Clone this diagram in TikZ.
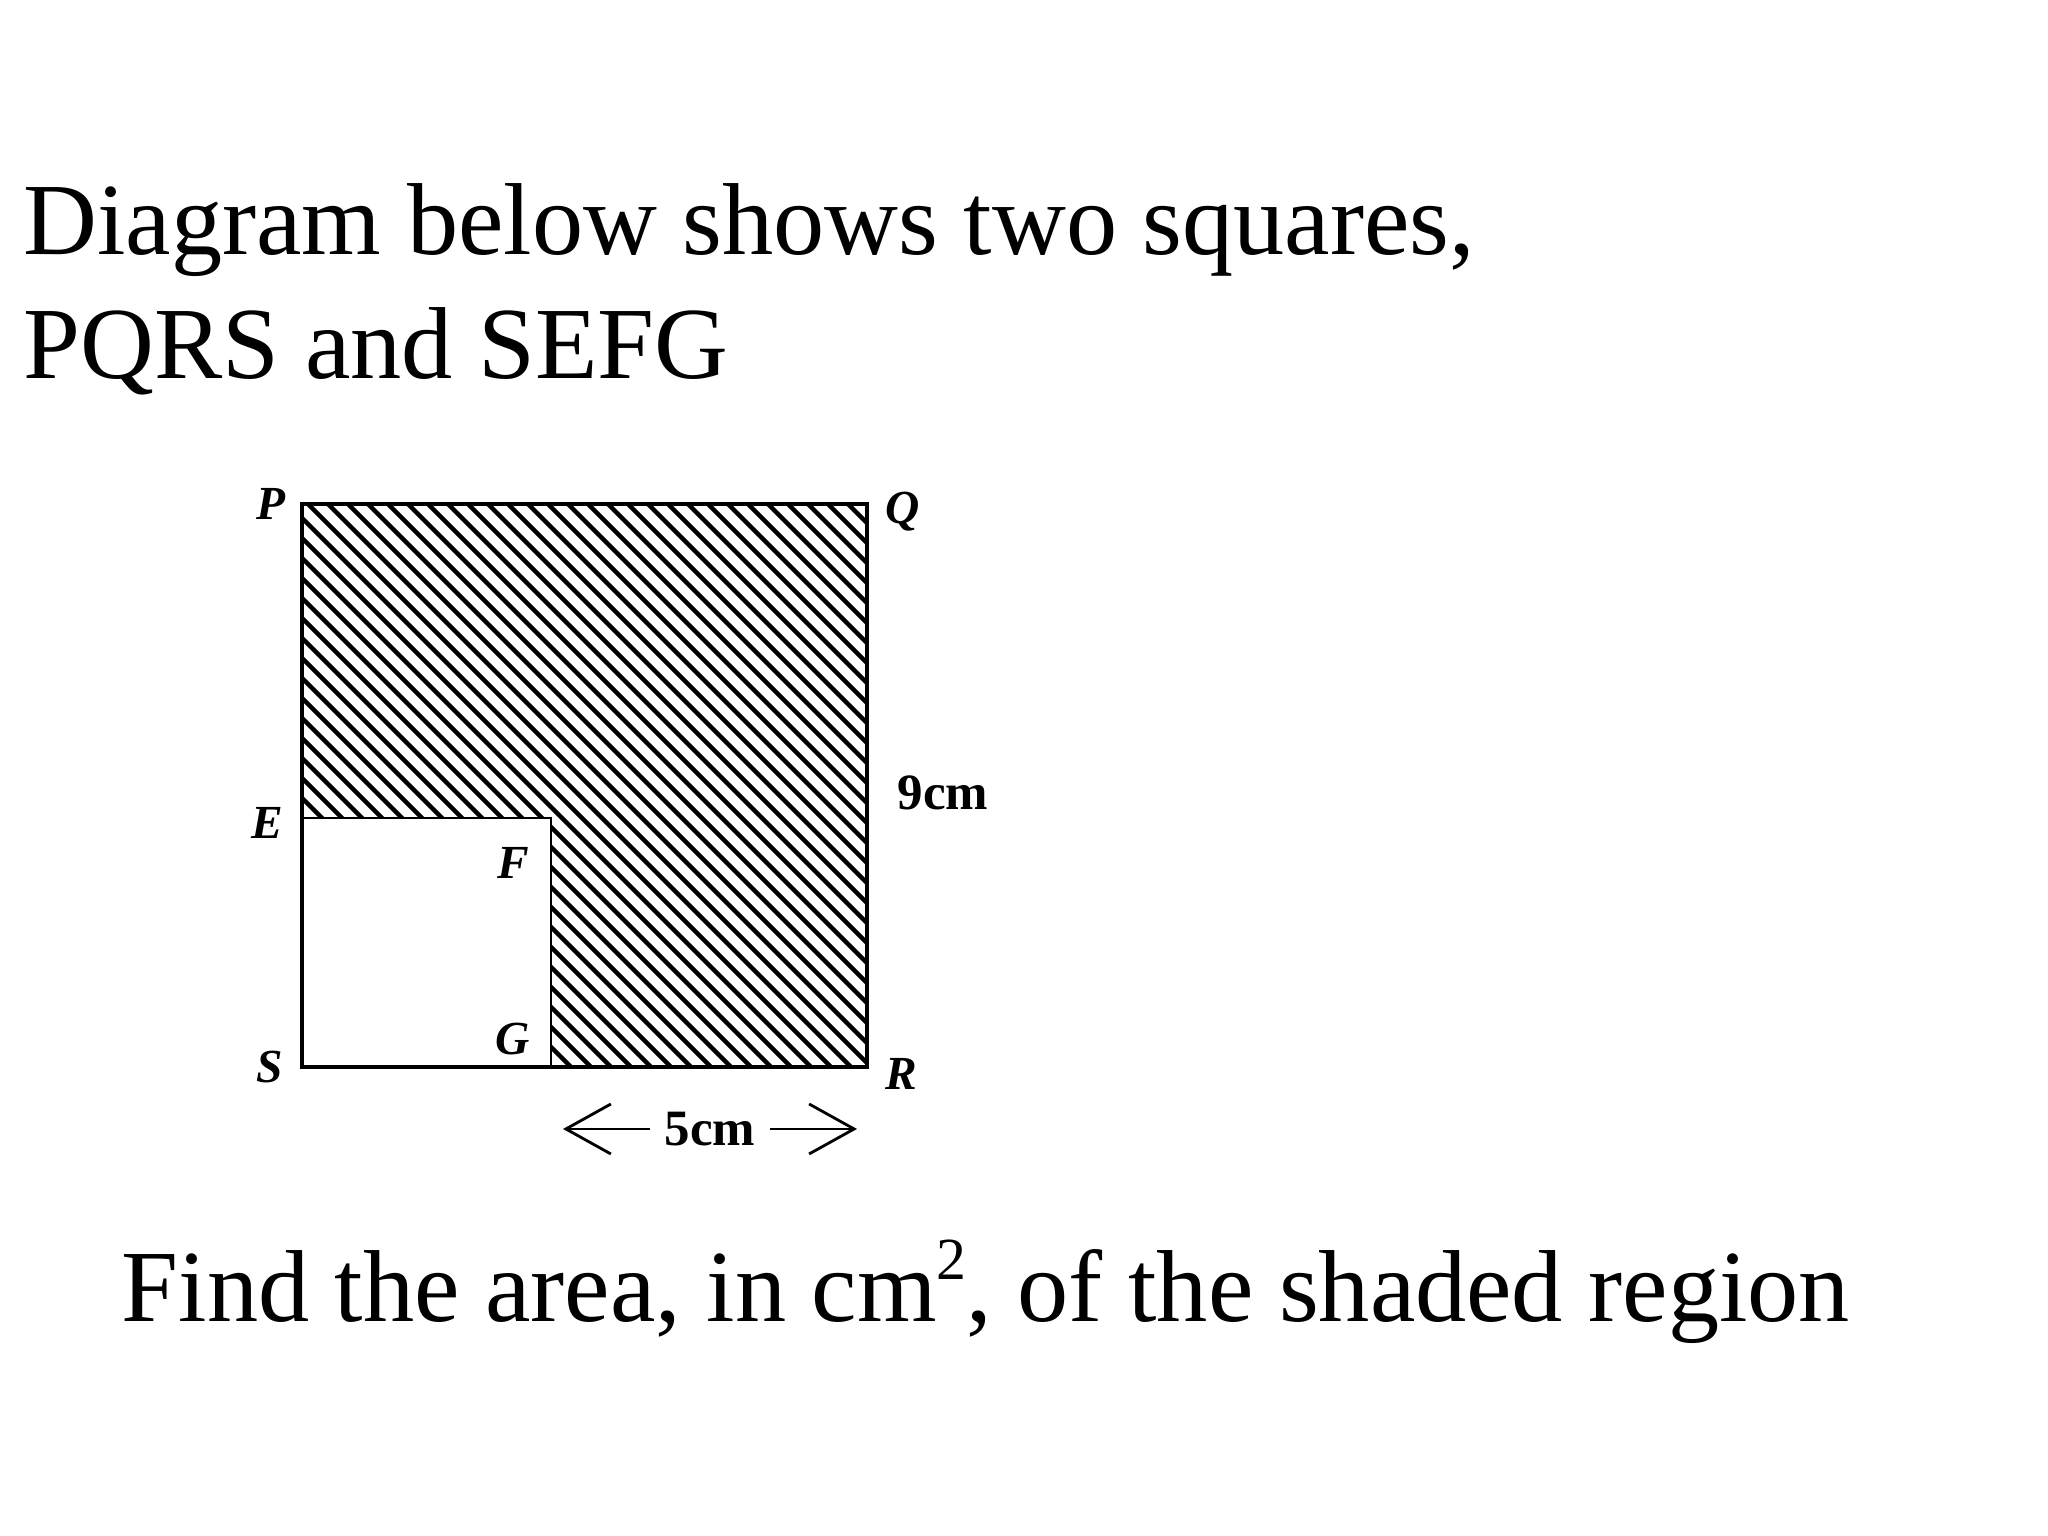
\documentclass[tikz,border=0pt]{standalone}
\usepackage{fontspec}
\setmainfont{Liberation Serif}
\usetikzlibrary{positioning,arrows.meta}
\tikzstyle{title} = [inner sep=0pt, anchor=base west, font=\fontsize{29.1}{35}\selectfont]
\tikzstyle{corner} = [coordinate]
\tikzstyle{lbl} = [inner sep=0pt, font=\fontsize{13.5}{15}\selectfont\bfseries\itshape]
\tikzstyle{dim} = [inner sep=0pt, font=\fontsize{14.5}{16}\selectfont\bfseries]
\tikzstyle{hatch} = [line width=1.3pt]

\begin{document}
\begin{tikzpicture}[node distance=0.2cm, >={Straight Barb[length=0.45cm,width=0.5cm]}]
\useasboundingbox (0,0) rectangle (20.48,15.36);

\node [title] (line1) at (0.23,12.81) {Diagram below shows two squares,};
\node [title] (line2) at (0.23,11.57) {PQRS and SEFG};

% corners of the squares
\node [corner] (P) at (3.02,10.32) {};
\node [corner] (Q) at (8.67,10.32) {};
\node [corner] (R) at (8.67,4.69) {};
\node [corner] (S) at (3.02,4.69) {};
\node [corner] (E) at (3.02,7.18) {};
\node [corner] (F) at (5.51,7.18) {};
\node [corner] (G) at (5.51,4.69) {};

% shaded region
\begin{scope}
\clip (P) -- (Q) -- (R) -- (G) -- (F) -- (E) -- cycle;
\foreach \c in {7,7.2,...,19.4}
  \draw [hatch] (\c-11,11) -- (\c-4,4);
\end{scope}

\draw [line width=1.1pt] (P) -- (Q) -- (R) -- (S) -- cycle;
\draw [line width=0.8pt] (E) -- (F) -- (G);

\node [lbl, left=0.16cm of P] (Plbl) {P};
\node [lbl, right=0.18cm of Q, yshift=-0.08cm] (Qlbl) {Q};
\node [lbl, right=0.18cm of R, yshift=-0.07cm] (Rlbl) {R};
\node [lbl, left=0.18cm of S] (Slbl) {S};
\node [lbl, left=0.18cm of E, yshift=-0.05cm] (Elbl) {E};
\node [lbl, below left=0.29cm and 0.21cm of F] (Flbl) {F};
\node [lbl, above left=0.11cm and 0.21cm of G] (Glbl) {G};

\node [dim, right=0.30cm of Q, anchor=west, yshift=-2.89cm] (side) {9cm};

\node [corner] (arrL) at (5.63,4.07) {};
\node [corner] (arrR) at (8.57,4.07) {};
\draw [<->, line width=0.8pt] (arrL) -- node [dim, fill=white, inner xsep=0.15cm, inner ysep=0.1cm] (base) {5cm} (arrR);

\node [title] (question) at (1.21,2.14) {Find the area, in cm\raisebox{0.42em}{\fontsize{17}{18}\selectfont 2}, of the shaded region};
\end{tikzpicture}
\end{document}
